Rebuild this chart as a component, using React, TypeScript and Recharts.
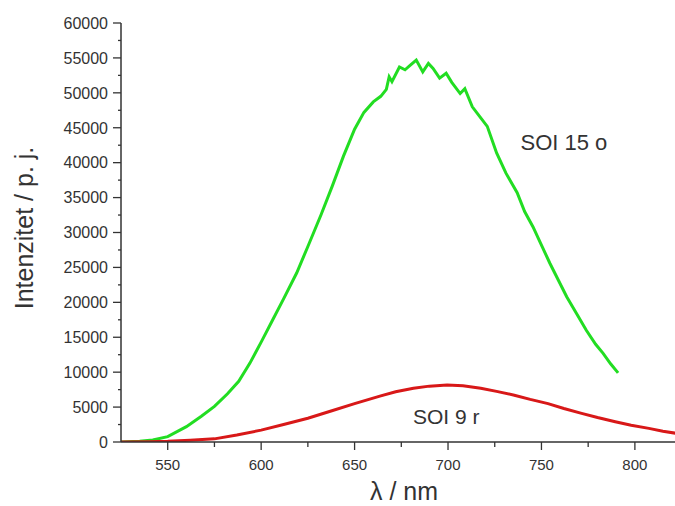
import { LineChart, Line, XAxis, YAxis, ReferenceDot } from "recharts";

const FONT = "Arial, 'Liberation Sans', sans-serif";
const INK = "#333333";
const GREEN = "#22dd22";
const RED = "#d81818";

// SOI 15 o (green curve)
const greenNm = [
  525, 535, 542, 550, 560, 568, 575, 582, 588, 594, 600, 606, 612, 619, 625, 632, 638, 644, 650, 655,
  660, 664, 667, 668.5, 670, 674, 677, 680, 683, 686.5, 689.5, 692, 695.5, 699, 702, 706.5, 709, 713,
  717, 721, 726, 731, 737, 741, 745.5, 750, 754.5, 759, 763.5, 769, 774, 779, 783, 787, 791,
];
const greenVal = [
  0, 100, 300, 760, 2200, 3700, 5100, 6900, 8700, 11300, 14300, 17400, 20500, 24200, 28000, 32500,
  36600, 40900, 44800, 47200, 48700, 49500, 50500, 52300, 51600, 53700, 53300, 54000, 54700, 53000,
  54200, 53500, 52100, 52800, 51500, 49900, 50600, 48000, 46600, 45200, 41400, 38500, 35700, 33000,
  30800, 28200, 25600, 23200, 20800, 18300, 16000, 14000, 12700, 11200, 9900,
];

// SOI 9 r (red curve)
const redNm = [
  525, 540, 550, 562, 575, 587, 600, 612, 625, 637, 650, 664, 672, 681.5, 690, 699.5, 708, 717.5, 726,
  735.5, 744, 753.5, 762, 771.5, 780, 789.5, 798, 807.5, 815, 822,
];
const redVal = [
  0, 50, 100, 250, 450, 1000, 1700, 2500, 3400, 4400, 5500, 6600, 7200, 7700, 8000, 8150, 8050, 7700,
  7250, 6700, 6100, 5500, 4800, 4100, 3500, 2900, 2400, 1950, 1550, 1250,
];

const xTicks = [550, 575, 600, 625, 650, 675, 700, 725, 750, 775, 800];
const yTicks = Array.from({ length: 25 }, (_, i) => i * 2500);

const greenData = greenNm.map((nm, i) => ({ nm, v: greenVal[i] }));
const redData = redNm.map((nm, i) => ({ nm, v: redVal[i] }));

function LeftTick({ x, y, payload }: any) {
  const major = payload.value % 5000 === 0;
  return (
    <g>
      <line x1={x - (major ? 8 : 3)} x2={x} y1={y} y2={y} stroke={INK} strokeWidth={1.3} />
      {major && (
        <text x={x - 13} y={y} dy="0.36em" textAnchor="end" fontSize={16} fill={INK} fontFamily={FONT}>
          {payload.value}
        </text>
      )}
    </g>
  );
}

function RightTick({ x, y, payload }: any) {
  const major = payload.value % 5000 === 0;
  return <line x1={x - (major ? 7 : 3)} x2={x} y1={y} y2={y} stroke={INK} strokeWidth={1.3} />;
}

function BottomTick({ x, y, payload }: any) {
  const major = payload.value % 50 === 0;
  return (
    <g>
      <line x1={x} x2={x} y1={y} y2={y + (major ? 8 : 5)} stroke={INK} strokeWidth={1.3} />
      {major && (
        <text x={x} y={y + 28} textAnchor="middle" fontSize={15} fill={INK} fontFamily={FONT}>
          {payload.value}
        </text>
      )}
    </g>
  );
}

function TopTick({ x, y, payload }: any) {
  const major = payload.value % 50 === 0;
  return <line x1={x} x2={x} y1={y} y2={y + (major ? 8 : 4)} stroke={INK} strokeWidth={1.3} />;
}

export default function App() {
  return (
    <div style={{ position: "absolute", left: 0, top: 0, width: 675, height: 506, overflow: "hidden", background: "#fff" }}>
      <LineChart width={680} height={506} margin={{ top: 23, right: 4, bottom: 0, left: 0 }}>
        <XAxis
          type="number"
          dataKey="nm"
          domain={[525, 822]}
          ticks={xTicks}
          interval={0}
          height={64}
          tickSize={0}
          tickMargin={0}
          tickLine={false}
          tick={<BottomTick />}
          axisLine={{ stroke: INK, strokeWidth: 1.5 }}
          allowDataOverflow
          label={{
            content: () => (
              <text x={404} y={500} textAnchor="middle" fontSize={25} fill={INK} fontFamily={FONT}>
                λ / nm
              </text>
            ),
          }}
        />
        <XAxis
          xAxisId="top"
          orientation="top"
          type="number"
          dataKey="nm"
          domain={[525, 822]}
          ticks={xTicks}
          interval={0}
          height={0}
          tickSize={0}
          tickMargin={0}
          tickLine={false}
          tick={<TopTick />}
          axisLine={{ stroke: INK, strokeWidth: 1.5 }}
          allowDataOverflow
        />
        <YAxis
          type="number"
          domain={[0, 60000]}
          ticks={yTicks}
          interval={0}
          width={121}
          tickSize={0}
          tickMargin={0}
          tickLine={false}
          tick={<LeftTick />}
          axisLine={{ stroke: INK, strokeWidth: 1.5 }}
          allowDataOverflow
          label={{
            content: () => (
              <text
                transform="translate(24,228) rotate(-90)"
                dy="0.35em"
                textAnchor="middle"
                fontSize={25}
                fill={INK}
                fontFamily={FONT}
              >
                Intenzitet / p. j.
              </text>
            ),
          }}
        />
        <YAxis
          yAxisId="right"
          orientation="right"
          type="number"
          domain={[0, 60000]}
          ticks={yTicks}
          interval={0}
          width={0}
          tickSize={0}
          tickMargin={0}
          tickLine={false}
          tick={<RightTick />}
          axisLine={{ stroke: INK, strokeWidth: 1.5 }}
          allowDataOverflow
        />
        <Line
          data={greenData}
          dataKey="v"
          type="linear"
          stroke={GREEN}
          strokeWidth={3}
          dot={false}
          isAnimationActive={false}
        />
        <Line
          data={redData}
          dataKey="v"
          type="linear"
          stroke={RED}
          strokeWidth={3}
          dot={false}
          isAnimationActive={false}
        />
        <ReferenceDot
          x={762}
          y={43000}
          r={1}
          fill="none"
          stroke="none"
          label={{ value: "SOI 15 o", position: "center", fontSize: 22, fill: INK, fontFamily: FONT }}
        />
        <ReferenceDot
          x={699}
          y={3700}
          r={1}
          fill="none"
          stroke="none"
          label={{ value: "SOI 9 r", position: "center", fontSize: 21, fill: INK, fontFamily: FONT }}
        />
      </LineChart>
    </div>
  );
}
